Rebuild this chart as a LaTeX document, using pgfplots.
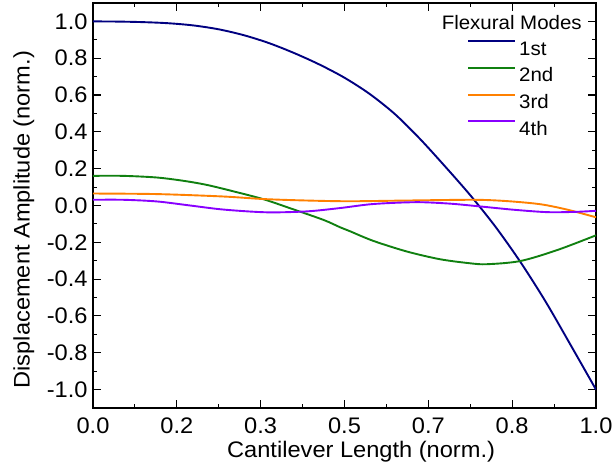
\documentclass[border=0pt]{standalone}
\usepackage{fontspec}
\setmainfont{Liberation Sans}[FakeStretch=1.05]
\usepackage{pgfplots}
\pgfplotsset{compat=1.18}
\definecolor{modeA}{RGB}{0,0,128}
\definecolor{modeB}{RGB}{16,128,16}
\definecolor{modeC}{RGB}{255,128,0}
\definecolor{modeD}{RGB}{136,0,255}
\begin{document}
\begin{tikzpicture}
\begin{axis}[
  scale only axis,
  width=503pt, height=405pt,
  xmin=0, xmax=1, ymin=-1.1, ymax=1.1,
  xtick={0,0.16667,0.33333,0.5,0.66667,0.83333,1},
  xticklabels={0.0,0.2,0.3,0.5,0.7,0.8,1.0},
  minor xtick={0.08333,0.25,0.41667,0.58333,0.75,0.91667},
  ytick={-1,-0.8,-0.6,-0.4,-0.2,0,0.2,0.4,0.6,0.8,1},
  minor ytick={-0.9,-0.7,-0.5,-0.3,-0.1,0.1,0.3,0.5,0.7,0.9},
  /pgf/number format/assume math mode=true,
  ticklabel style={font=\fontsize{22.5}{26}\selectfont},
  yticklabel style={xshift=-2pt, /pgf/number format/fixed, /pgf/number format/fixed zerofill, /pgf/number format/precision=1},
  xticklabel style={yshift=-6pt},
  tick align=inside,
  major tick length=8pt, minor tick length=4pt,
  every tick/.style={black, line width=1.1pt},
  axis line style={line width=1.6pt},
  xlabel={Cantilever Length (norm.)},
  ylabel={Displacement Amplitude (norm.)},
  label style={font=\fontsize{22.5}{26}\selectfont, inner sep=0pt},
  xlabel style={at={(axis description cs:0.533,-0.122)}, anchor=base},
  ylabel style={at={(axis description cs:-0.159,0.465)}, anchor=north, rotate=0},
  legend style={draw=none, fill=none, inner sep=0pt,
    at={(rel axis cs:0.7435,0.909)}, anchor=north west,
    font=\fontsize{19.5}{20}\selectfont,
    nodes={inner sep=0pt, text height=14pt, text depth=0pt},
    row sep=11.8pt,
    /tikz/every odd column/.style={column sep=3pt}},
  legend cell align=left,
  legend image code/.code={\draw[#1, line width=2pt] (0pt,7pt) -- (47pt,7pt);},
  every axis plot/.append style={line width=1.9pt, smooth},
]
\addplot[modeA] coordinates {(0,1.000) (0.05,0.999) (0.10,0.996) (0.15,0.990) (0.20,0.978) (0.25,0.957) (0.30,0.925) (0.35,0.882) (0.40,0.828) (0.45,0.766) (0.50,0.694) (0.55,0.606) (0.60,0.497) (0.65,0.362) (0.70,0.212) (0.75,0.056) (0.80,-0.115) (0.85,-0.308) (0.90,-0.523) (0.95,-0.760) (1.00,-1.000)};
\addlegendentry{1st}
\addplot[modeB] coordinates {(0,0.161) (0.06,0.161) (0.127,0.152) (0.18,0.134) (0.226,0.112) (0.279,0.077) (0.339,0.034) (0.392,-0.015) (0.458,-0.078) (0.491,-0.118) (0.511,-0.140) (0.557,-0.192) (0.624,-0.250) (0.69,-0.292) (0.75,-0.314) (0.783,-0.319) (0.849,-0.302) (0.922,-0.243) (1.0,-0.162)};
\addlegendentry{2nd}
\addplot[modeC] coordinates {(0,0.065) (0.127,0.062) (0.258,0.049) (0.339,0.035) (0.425,0.027) (0.511,0.023) (0.624,0.027) (0.756,0.031) (0.822,0.024) (0.889,0.007) (0.942,-0.022) (1.0,-0.064)};
\addlegendentry{3rd}
\addplot[modeD] coordinates {(0,0.031) (0.06,0.031) (0.127,0.022) (0.193,0.000) (0.259,-0.022) (0.345,-0.037) (0.425,-0.032) (0.491,-0.014) (0.557,0.008) (0.643,0.018) (0.71,0.010) (0.769,-0.005) (0.836,-0.023) (0.902,-0.036) (0.955,-0.035) (1.0,-0.029)};
\addlegendentry{4th}
\node[anchor=north east, inner sep=0pt, font=\fontsize{19.5}{20}\selectfont] at (rel axis cs:0.972,0.970) {Flexural Modes};
\coordinate (sw) at (rel axis cs:0,0);
\coordinate (ne) at (rel axis cs:1,1);
\end{axis}
\pgfresetboundingbox
\path ([shift={(-93pt,-59pt)}]sw) rectangle ([shift={(17pt,3pt)}]ne);
\end{tikzpicture}
\end{document}
